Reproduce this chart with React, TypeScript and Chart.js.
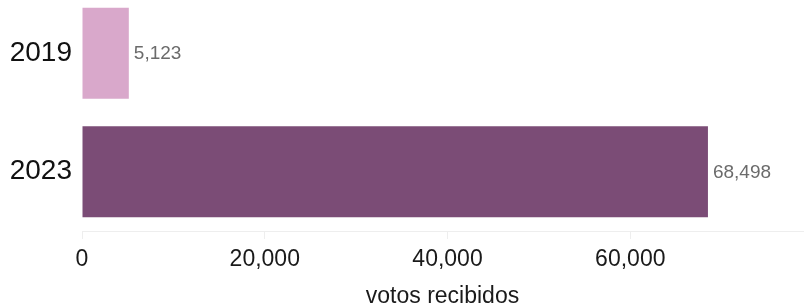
import React, { useEffect, useRef } from "react";
import { Chart, registerables } from "chart.js";

Chart.register(...registerables);

const categories = ["2019", "2023"];
const votes = [5123, 68498];
const barColors = ["#d9a8cb", "#7b4c76"];
const xTicks = [0, 20000, 40000, 60000];
const xMax = 78900;
const xTitle = "votos recibidos";

const valueLabels = {
  id: "valueLabels",
  afterDatasetsDraw(chart: any) {
    const { ctx } = chart;
    const meta = chart.getDatasetMeta(0);
    ctx.save();
    ctx.font = '19px "Liberation Sans", Arial, sans-serif';
    ctx.fillStyle = "#6b6b6b";
    ctx.textAlign = "left";
    ctx.textBaseline = "middle";
    meta.data.forEach((bar: any, i: number) => {
      ctx.fillText(votes[i].toLocaleString("en-US"), bar.x + 5, bar.y + 1);
    });
    ctx.restore();
  },
};

const zeroPad = (s: any) => {
  s.paddingTop = 0;
  s.paddingBottom = 0;
  s.paddingLeft = 0;
  s.paddingRight = 0;
};

export default function App() {
  const ref = useRef<HTMLCanvasElement | null>(null);
  useEffect(() => {
    if (!ref.current) return;
    const chart = new Chart(ref.current, {
      type: "bar",
      data: {
        labels: categories,
        datasets: [
          {
            data: votes,
            backgroundColor: barColors,
            borderWidth: 0,
            barPercentage: 0.77,
            categoryPercentage: 1,
          },
        ],
      },
      options: {
        indexAxis: "y",
        animation: false,
        responsive: false,
        layout: { padding: { top: 0, right: 1, left: 0, bottom: 0 } },
        plugins: { legend: { display: false }, tooltip: { enabled: false } },
        scales: {
          y: {
            afterFit: (s: any) => {
              s.width = 82;
              zeroPad(s);
            },
            grid: { display: false, drawTicks: false },
            border: { display: false },
            ticks: {
              padding: 10,
              color: "#111",
              font: { family: '"Liberation Sans", Arial, sans-serif', size: 28 },
            },
          },
          x: {
            min: 0,
            max: xMax,
            afterFit: (s: any) => {
              s.height = 83;
              zeroPad(s);
            },
            afterBuildTicks: (s: any) => {
              s.ticks = xTicks.map((v) => ({ value: v }));
            },
            grid: {
              drawOnChartArea: false,
              drawTicks: true,
              tickLength: 8,
              color: "#eeeeee",
            },
            border: { display: true, color: "#eeeeee", width: 1 },
            ticks: {
              padding: 7,
              color: "#1a1a1a",
              font: { family: '"Liberation Sans", Arial, sans-serif', size: 23 },
              callback: (v: any) => Number(v).toLocaleString("en-US"),
            },
            title: {
              display: true,
              text: xTitle,
              color: "#1a1a1a",
              font: { family: '"Liberation Sans", Arial, sans-serif', size: 23 },
              padding: { top: 0, bottom: 4 },
            },
          },
        },
      },
      plugins: [valueLabels],
    });
    return () => chart.destroy();
  }, []);
  return (
    <div style={{ position: "fixed", left: 0, top: -6, width: 804, height: 320 }}>
      <canvas ref={ref} width={804} height={320} style={{ width: 804, height: 320, display: "block" }} />
    </div>
  );
}
